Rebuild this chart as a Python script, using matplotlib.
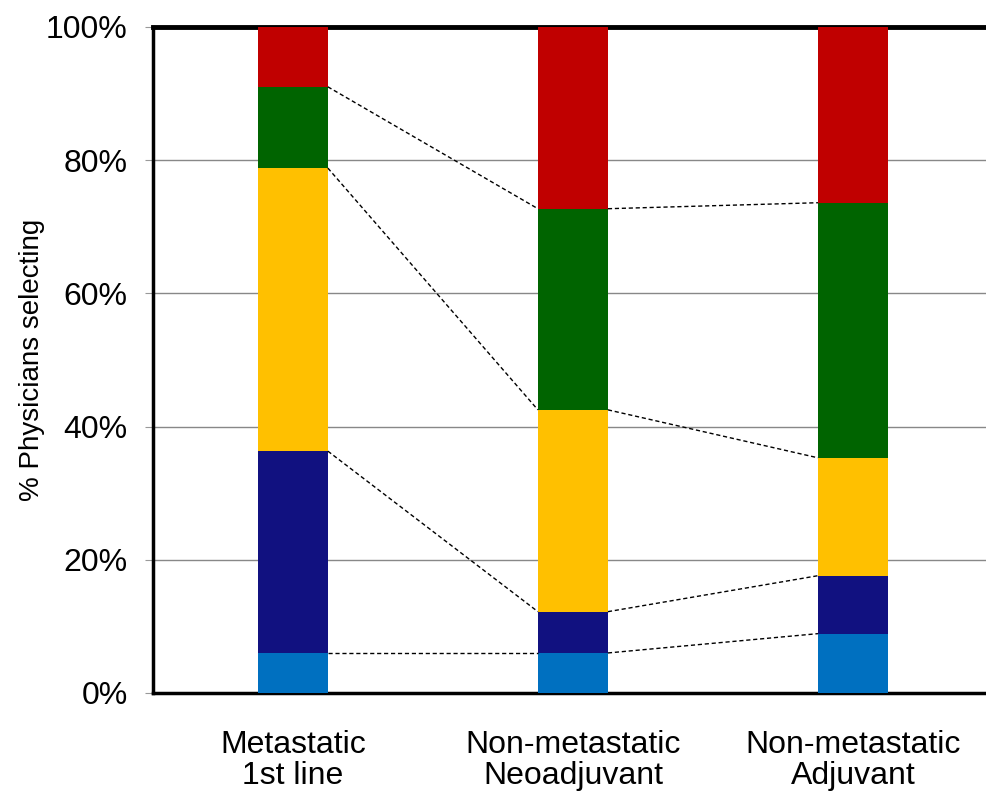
import numpy as np
import matplotlib
matplotlib.use("Agg")
import matplotlib.pyplot as plt

plt.rcParams['font.family'] = ['Liberation Sans', 'DejaVu Sans']

# Categories (x axis)
categories = ["Metastatic\n1st line", "Non-metastatic\nNeoadjuvant", "Non-metastatic\nAdjuvant"]

# Segment shares (%), bottom to top
light_blue = [6.0, 6.0, 8.9]
navy = [30.3, 6.2, 8.7]
yellow = [42.5, 30.3, 17.7]
green = [12.2, 30.2, 38.3]
red = [9.0, 27.3, 26.4]

series = [light_blue, navy, yellow, green, red]
colors = ["#0070C0", "#111180", "#FFC000", "#006400", "#C00000"]

x = np.arange(len(categories))
width = 0.25

fig = plt.figure(figsize=(9.86, 7.91), dpi=100)
ax = fig.add_axes([0.155, 0.124, 0.845, 0.842])

bottom = np.zeros(len(categories))
tops = []
for vals, c in zip(series, colors):
    vals = np.array(vals)
    ax.bar(x, vals, width, bottom=bottom, color=c, edgecolor="none", zorder=3)
    bottom = bottom + vals
    tops.append(bottom.copy())

# dashed connectors between bars at each boundary (except top)
for level in tops[:-1]:
    for i in range(len(categories) - 1):
        ax.plot([x[i] + width / 2, x[i + 1] - width / 2], [level[i], level[i + 1]],
                color="black", linestyle=(0, (3, 2)), linewidth=1, zorder=4)

ax.set_xlim(-0.5, 2.475)
ax.set_ylim(0, 100)
ax.set_yticks([0, 20, 40, 60, 80, 100])
ax.set_yticklabels(["0%", "20%", "40%", "60%", "80%", "100%"], fontsize=23)
ax.set_xticks(x)
ax.set_xticklabels(categories, fontsize=23, linespacing=1.02)
ax.tick_params(axis="x", length=0, pad=27)
ax.tick_params(axis="y", length=6, color="#999999", pad=12)
ax.set_ylabel("% Physicians selecting", fontsize=20, va="center")
ax.yaxis.set_label_coords(-0.145, 0.5)

ax.yaxis.grid(True, color="#888888", linewidth=1, zorder=0)
ax.set_axisbelow(True)

ax.spines["right"].set_visible(False)
ax.spines["top"].set_linewidth(3.5)
ax.spines["left"].set_linewidth(2.5)
ax.spines["bottom"].set_linewidth(2.5)

fig.savefig("out.png", dpi=100)
